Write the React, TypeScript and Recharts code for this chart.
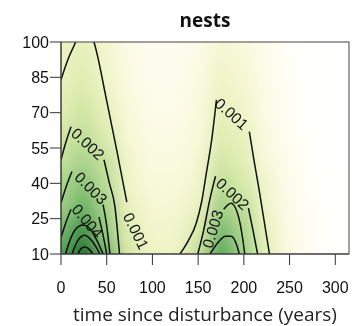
import React from "react";
import { ComposedChart, XAxis, YAxis, Line, Scatter } from "recharts";

// axes
const xTicks = [0, 50, 100, 150, 200, 250, 300];
const yTicks = [10, 25, 40, 55, 70, 85, 100];
const xDomain: [number, number] = [0, 315];
const yDomain: [number, number] = [10, 100];

// density surface (units of 0.001)
const gridX = [0, 25, 50, 75, 100, 125, 150, 175, 200, 225, 250, 275, 300, 325];
const gridY = [10, 20, 30, 40, 50, 60, 70, 80, 90, 100];
const density = [
  [4.7, 7.5, 4.0, 1.5, 0.9, 0.9, 2.0, 4.5, 2.8, 1.2, 0.5, 0.2, 0.05, 0],
  [3.8, 5.3, 3.0, 1.3, 0.8, 0.8, 1.4, 3.7, 2.6, 1.0, 0.45, 0.2, 0.05, 0],
  [2.9, 4.0, 2.7, 1.0, 0.7, 0.7, 0.95, 2.8, 2.1, 0.85, 0.4, 0.15, 0.05, 0],
  [2.6, 3.3, 2.2, 0.85, 0.6, 0.6, 0.8, 2.1, 1.5, 0.8, 0.35, 0.12, 0.03, 0],
  [2.0, 2.6, 1.9, 0.8, 0.5, 0.5, 0.7, 1.6, 1.2, 0.6, 0.3, 0.1, 0.02, 0],
  [1.6, 2.1, 1.4, 0.65, 0.45, 0.45, 0.6, 1.3, 1.05, 0.5, 0.25, 0.08, 0.02, 0],
  [1.3, 1.7, 1.1, 0.6, 0.4, 0.4, 0.55, 1.1, 0.85, 0.45, 0.2, 0.05, 0.01, 0],
  [1.1, 1.4, 0.9, 0.5, 0.35, 0.35, 0.5, 0.9, 0.75, 0.4, 0.18, 0.05, 0.01, 0],
  [0.95, 1.2, 0.8, 0.45, 0.3, 0.3, 0.45, 0.8, 0.65, 0.35, 0.15, 0.04, 0, 0],
  [0.9, 1.1, 0.75, 0.4, 0.3, 0.3, 0.4, 0.7, 0.6, 0.3, 0.12, 0.04, 0, 0],
];

// contour line pieces [time, height], broken where the labels sit
type Pt = [number, number];
const left001a: Pt[] = [[0, 84], [8, 93], [16, 100], [20, 104]];
const left001b: Pt[] = [[32, 104], [36, 100], [50, 75], [61, 54], [72, 32]];
const left002a: Pt[] = [[0, 50], [5, 57], [11, 64]];
const left002b: Pt[] = [[47, 50], [53, 40], [59, 30], [64, 10]];
const left003a: Pt[] = [[0, 31.7], [6, 39], [12, 45]];
const left003b: Pt[] = [[46, 31], [50, 22], [53.5, 10]];
const left004a: Pt[] = [[0, 17], [5, 23], [11, 29]];
const left004b: Pt[] = [[41.5, 25.7], [46, 18], [50, 10]];
const left005: Pt[] = [[5, 10], [10, 16], [16, 20.5], [24, 22.3], [32, 20.5], [39, 16], [46, 10]];
const left006: Pt[] = [[12, 10], [18, 15.5], [26, 18], [34, 15.5], [42.6, 10]];
const left007: Pt[] = [[18.6, 10], [22, 12.3], [26, 13], [30, 12.3], [35, 10]];
const right001a: Pt[] = [[130, 10], [139, 15.5], [148, 23.2], [154, 32.5], [159, 44.4], [165, 59], [170, 75.4]];
const right001b: Pt[] = [[206, 62], [211, 50], [217, 36.5], [223, 22], [228, 10]];
const right002a: Pt[] = [[149.6, 10], [156, 20], [162.7, 33], [169, 43]];
const right002b: Pt[] = [[205, 29.5], [210, 20], [215, 10]];
const right003b: Pt[] = [[178, 29], [186, 31.5], [195, 24.5], [198.5, 17], [201, 10]];
const right004: Pt[] = [[163, 10], [172, 15], [180, 17.5], [186, 17.5], [192, 14], [195, 10]];

const contourPieces = [
  left001a, left001b, left002a, left002b, left003a, left003b, left004a, left004b,
  left005, left006, left007, right001a, right001b, right002a, right002b, right003b, right004,
];

const contourLabels = [
  { x: 82, y: 19.8, text: "0.001", angle: 64 },
  { x: 29.5, y: 56.7, text: "0.002", angle: 43 },
  { x: 32.8, y: 38, text: "0.003", angle: 45 },
  { x: 28.9, y: 24, text: "0.004", angle: 50 },
  { x: 186.7, y: 69.5, text: "0.001", angle: 42 },
  { x: 187.8, y: 35.5, text: "0.002", angle: 43 },
  { x: 165.9, y: 20.6, text: "0.003", angle: -73 },
];

const colorStops: [number, string][] = [
  [0, "#ffffff"],
  [0.25, "#fefef2"],
  [0.6, "#f8f9da"],
  [1.0, "#eaf2bd"],
  [1.6, "#d3e7a6"],
  [2.5, "#b0d78f"],
  [3.5, "#80bf72"],
  [4.5, "#55a55a"],
  [5.5, "#368d44"],
  [7.5, "#1a6b2a"],
];

const hex = (c: string) => [1, 3, 5].map((i) => parseInt(c.slice(i, i + 2), 16));

function heatColor(v: number) {
  if (v <= colorStops[0][0]) return colorStops[0][1];
  for (let i = 1; i < colorStops.length; i++) {
    const [v1, c1] = colorStops[i];
    if (v <= v1) {
      const [v0, c0] = colorStops[i - 1];
      const t = (v - v0) / (v1 - v0);
      const a = hex(c0);
      const b = hex(c1);
      const m = a.map((ch, k) => Math.round(ch + (b[k] - ch) * t));
      return `rgb(${m[0]},${m[1]},${m[2]})`;
    }
  }
  return colorStops[colorStops.length - 1][1];
}

const W = 352;
const H = 326;
const margin = { top: 42, right: 3, bottom: 0, left: 0 };
const yAxisW = 61;
const xAxisH = 72;
const plotW = W - margin.left - margin.right - yAxisW;
const plotH = H - margin.top - margin.bottom - xAxisH;
const plotX = margin.left + yAxisW;
const plotY = margin.top;
const cellW = (plotW / (xDomain[1] - xDomain[0])) * (gridX[1] - gridX[0]);
const cellH = (plotH / (yDomain[1] - yDomain[0])) * (gridY[1] - gridY[0]);

const heatCells = gridY.flatMap((y, i) => gridX.map((x, j) => ({ x, y, v: density[i][j] })));

const HeatCell = (props: any) => {
  const { cx, cy, payload } = props;
  const pad = 20;
  const l = payload.x === gridX[0] ? pad : 0;
  const r = payload.x === gridX[gridX.length - 1] ? pad : 0;
  const b = payload.y === gridY[0] ? pad : 0;
  const t = payload.y === gridY[gridY.length - 1] ? pad : 0;
  return (
    <rect
      x={cx - cellW / 2 - l - 0.5}
      y={cy - cellH / 2 - t - 0.5}
      width={cellW + l + r + 1}
      height={cellH + t + b + 1}
      fill={heatColor(payload.v)}
    />
  );
};

const ContourLabel = (props: any) => {
  const { cx, cy, payload } = props;
  return (
    <text
      x={cx}
      y={cy}
      transform={`rotate(${payload.angle} ${cx} ${cy})`}
      textAnchor="middle"
      dominantBaseline="central"
      fontSize={15.5}
      fontFamily="'Liberation Sans', Arial, sans-serif"
      fill="#111"
    >
      {payload.text}
    </text>
  );
};

const tickStyle = { fill: "#111", fontSize: 16, fontFamily: "'Liberation Sans', Arial, sans-serif" };

export default function App() {
  return (
    <div style={{ position: "absolute", left: 0, top: 0, width: W, height: H, background: "#fff" }}>
      <style>{`.heat-layer { filter: url(#heatBlur); mix-blend-mode: multiply; }`}</style>
      <svg width={0} height={0} style={{ position: "absolute" }}>
        <defs>
          <filter id="heatBlur" x="-20%" y="-20%" width="140%" height="140%">
            <feGaussianBlur stdDeviation="8" />
          </filter>
        </defs>
      </svg>
      <ComposedChart width={W} height={H} margin={margin}>
        <XAxis
          dataKey="x"
          type="number"
          domain={xDomain}
          ticks={xTicks}
          allowDataOverflow
          height={xAxisH}
          tickSize={11}
          tickMargin={17}
          tick={tickStyle}
          stroke="#333"
          label={{
            value: "time since disturbance (years)",
            position: "insideBottom",
            offset: 5,
            fontSize: 19,
            fontFamily: "'Open Sans', sans-serif",
            fill: "#222",
          }}
        />
        <YAxis
          dataKey="y"
          type="number"
          domain={yDomain}
          ticks={yTicks}
          allowDataOverflow
          width={yAxisW}
          tickSize={11}
          tickMargin={1}
          tick={tickStyle}
          stroke="#333"
        />
        <Scatter
          data={heatCells}
          className="heat-layer"
          shape={HeatCell}
          isAnimationActive={false}
        />
        {contourPieces.map((piece, i) => (
          <Line
            key={i}
            data={piece.map(([x, y]) => ({ x, y }))}
            dataKey="y"
            type="monotone"
            stroke="#111"
            strokeWidth={1.5}
            dot={false}
            activeDot={false}
            isAnimationActive={false}
          />
        ))}
        <Scatter data={contourLabels} shape={ContourLabel} isAnimationActive={false} />
      </ComposedChart>
      <svg width={W} height={H} style={{ position: "absolute", left: 0, top: 0, pointerEvents: "none" }}>
        <rect x={plotX} y={plotY} width={plotW} height={plotH} fill="none" stroke="#444" strokeWidth={1} />
        <text
          x={plotX + plotW / 2}
          y={27}
          textAnchor="middle"
          fontSize={19}
          fontWeight="bold"
          fontFamily="'Open Sans', sans-serif"
          fill="#111"
        >
          nests
        </text>
      </svg>
    </div>
  );
}
